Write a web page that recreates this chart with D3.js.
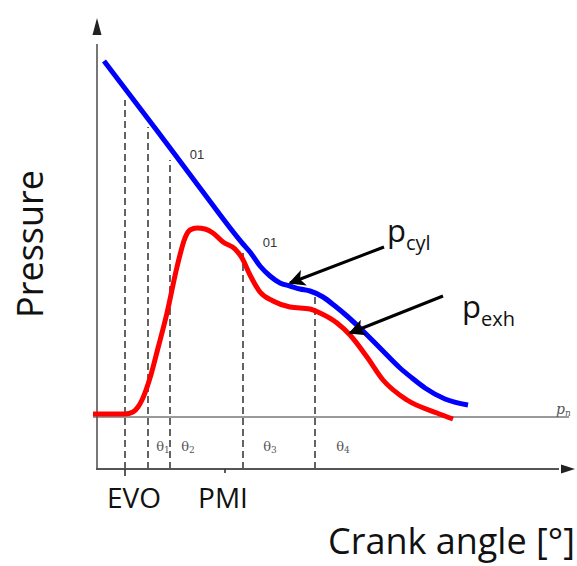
<!DOCTYPE html>
<html>
<head>
<meta charset="utf-8">
<script src="https://cdn.jsdelivr.net/npm/d3@7"></script>
<style>
  html, body { margin: 0; padding: 0; background: #fff; }
  svg { display: block; }
</style>
</head>
<body>
<svg id="chart" width="577" height="566"></svg>
<script>
// Cylinder pressure trace (crank angle, pressure) in arbitrary units
const cylAngle    = [3.5, 29, 51.5, 73, 76.5, 81.5, 86.5, 91.5, 96.5, 101.5, 106.5, 113, 119, 125, 133, 141.5, 151.5, 157.5, 164, 174, 185.5];
const cylPressure = [81.6, 68.2, 56.2, 45, 43.4, 40.6, 38.6, 37.2, 36.6, 36, 35.6, 34.4, 32.6, 30.6, 27.6, 24.2, 20.2, 18.2, 16.2, 14, 12.8];

// Exhaust pressure trace
const exhAngle    = [-2, 14, 18, 20.5, 22.5, 26.5, 30.5, 35, 40, 44, 46.5, 50, 54, 58, 63, 69, 72.5, 76.5, 81.5, 88, 96.5, 106.5, 111.5, 120, 126.5, 135, 143, 155, 170, 178];
const exhPressure = [11, 11, 11.4, 12.4, 13.8, 18.2, 24.2, 31.2, 40.4, 46.2, 47.8, 48.2, 48, 47.2, 45.4, 44, 42.2, 38.8, 35.4, 33.6, 32.4, 32, 31.2, 29.2, 26.8, 22.4, 17.8, 13.8, 11.2, 10];

// Reference pressure p_n
const refPressure = 10.4;

// Event markers: crank angle and the pressure where each dashed guide stops
const markerAngle = [14, 25.5, 36.5, 73, 109];
const markerTop   = [73.8, 68.4, 61.8, 43.8, 34.4];

// Phase labels between markers
const phaseNames = ["θ", "θ", "θ", "θ"];
const phaseSubs  = ["1", "2", "3", "4"];
const phaseAngle = [33, 45.5, 86.5, 123];

// Axis event labels
const eventNames = ["EVO", "PMI"];
const eventAngle = [14, 64];
const eventLabelAngle = [18.5, 63];

const svg = d3.select("#chart");
const x = d3.scaleLinear().domain([0, 236]).range([97, 569]);
const y = d3.scaleLinear().domain([0, 90]).range([469, 19]);

const axisColor = "#555";

// Dashed guides
svg.append("g").selectAll("line")
  .data(markerAngle.map((a, i) => ({ a, top: markerTop[i] })))
  .join("line")
  .attr("x1", d => x(d.a)).attr("x2", d => x(d.a))
  .attr("y1", y(0)).attr("y2", d => y(d.top))
  .attr("stroke", "#222").attr("stroke-width", 1.4)
  .attr("stroke-dasharray", "7,4");

// Reference line p_n
svg.append("line")
  .attr("x1", x(-2)).attr("x2", x(236))
  .attr("y1", y(refPressure)).attr("y2", y(refPressure))
  .attr("stroke", "#777").attr("stroke-width", 1.3);
svg.append("text")
  .attr("x", x(229.5)).attr("y", y(refPressure) - 3)
  .attr("font-family", "DejaVu Serif, serif").attr("font-style", "italic")
  .attr("font-size", 14).attr("fill", "#555")
  .text("p")
  .append("tspan").attr("font-size", 9).attr("dy", 2).text("n");

// Axes with arrowheads
svg.append("line")
  .attr("x1", x(0)).attr("x2", x(0))
  .attr("y1", y(0)).attr("y2", y(85))
  .attr("stroke", axisColor).attr("stroke-width", 1.6);
svg.append("path")
  .attr("d", `M${x(0)},${y(90.2)} L${x(0) - 4.5},${y(86.8)} L${x(0) + 4.5},${y(86.8)} Z`)
  .attr("fill", "#222");
svg.append("line")
  .attr("x1", x(0) - 1).attr("x2", x(231))
  .attr("y1", y(0)).attr("y2", y(0))
  .attr("stroke", axisColor).attr("stroke-width", 1.8);
svg.append("path")
  .attr("d", `M${x(239)},${y(0)} L${x(232)},${y(0) - 4.5} L${x(232)},${y(0) + 4.5} Z`)
  .attr("fill", "#222");

// Event ticks on the angle axis
svg.append("g").selectAll("line")
  .data(eventAngle)
  .join("line")
  .attr("x1", d => x(d)).attr("x2", d => x(d))
  .attr("y1", y(0)).attr("y2", (d, i) => y(0) + (i === 0 ? 7 : 4))
  .attr("stroke", "#333").attr("stroke-width", 1.6);

// Phase labels
const phase = svg.append("g").selectAll("text")
  .data(phaseAngle.map((a, i) => ({ a, n: phaseNames[i], s: phaseSubs[i] })))
  .join("text")
  .attr("x", d => x(d.a)).attr("y", y(3.6))
  .attr("text-anchor", "middle")
  .attr("font-family", "DejaVu Serif, serif")
  .attr("font-size", 13).attr("fill", "#555");
phase.append("tspan").text(d => d.n);
phase.append("tspan").attr("font-size", 9).attr("dy", 2).text(d => d.s);

// Traces
const line = d3.line()
  .x(d => x(d[0])).y(d => y(d[1]))
  .curve(d3.curveMonotoneX);

svg.append("path")
  .datum(cylAngle.map((a, i) => [a, cylPressure[i]]))
  .attr("d", line)
  .attr("fill", "none").attr("stroke", "#0000ff")
  .attr("stroke-width", 5).attr("stroke-linecap", "butt").attr("stroke-linejoin", "round");

svg.append("path")
  .datum(exhAngle.map((a, i) => [a, exhPressure[i]]))
  .attr("d", line)
  .attr("fill", "none").attr("stroke", "#ff0000")
  .attr("stroke-width", 5).attr("stroke-linecap", "butt").attr("stroke-linejoin", "round");

// Small "01" point labels on the cylinder trace
const pointLabels = [[50, 62], [86.5, 44.4]];
svg.append("g").selectAll("text")
  .data(pointLabels)
  .join("text")
  .attr("x", d => x(d[0])).attr("y", d => y(d[1]))
  .attr("text-anchor", "middle")
  .attr("font-family", "Liberation Sans, Arial, sans-serif")
  .attr("font-size", 13).attr("fill", "#333")
  .text("01");

// Pointer arrows with subscripted labels
const defs = svg.append("defs");
defs.append("marker")
  .attr("id", "head").attr("viewBox", "0 0 10 10")
  .attr("refX", 9).attr("refY", 5)
  .attr("markerWidth", 6.5).attr("markerHeight", 5.5)
  .attr("markerUnits", "strokeWidth")
  .attr("orient", "auto")
  .append("path").attr("d", "M0,0 L10,5 L0,10 L2.5,5 Z").attr("fill", "#000");

const callouts = [
  { from: [143.5, 44.4], to: [96.5, 37.2], label: [145, 45.4], name: "p", sub: "cyl" },
  { from: [173, 34.6],   to: [126.5, 27.2], label: [182.5, 30.2], name: "p", sub: "exh" }
];
svg.append("g").selectAll("line")
  .data(callouts)
  .join("line")
  .attr("x1", d => x(d.from[0])).attr("y1", d => y(d.from[1]))
  .attr("x2", d => x(d.to[0])).attr("y2", d => y(d.to[1]))
  .attr("stroke", "#000").attr("stroke-width", 3)
  .attr("marker-end", "url(#head)");

const ct = svg.append("g").selectAll("text")
  .data(callouts)
  .join("text")
  .attr("x", d => x(d.label[0])).attr("y", d => y(d.label[1]))
  .attr("font-family", "Open Sans, sans-serif")
  .attr("font-size", 31).attr("fill", "#111");
ct.append("tspan").text(d => d.name);
ct.append("tspan").attr("font-size", 20).attr("dy", 8).text(d => d.sub);

// Event labels under the axis
svg.append("g").selectAll("text")
  .data(eventNames)
  .join("text")
  .attr("x", (d, i) => x(eventLabelAngle[i])).attr("y", 508)
  .attr("text-anchor", "middle")
  .attr("font-family", "Open Sans, sans-serif")
  .attr("font-size", 28).attr("fill", "#111")
  .text(d => d);

// Axis titles
svg.append("text")
  .attr("x", 575).attr("y", 554)
  .attr("text-anchor", "end")
  .attr("font-family", "Open Sans, sans-serif")
  .attr("font-size", 36).attr("fill", "#111")
  .text("Crank angle [°]");

svg.append("text")
  .attr("transform", "translate(43,244) rotate(-90)")
  .attr("text-anchor", "middle")
  .attr("font-family", "Open Sans, sans-serif")
  .attr("font-size", 36).attr("fill", "#111")
  .text("Pressure");
</script>
</body>
</html>
